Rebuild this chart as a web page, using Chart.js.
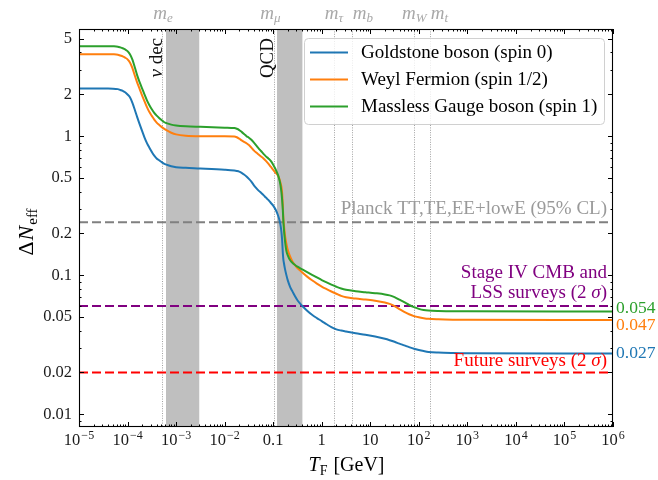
<!DOCTYPE html>
<html><head><meta charset="utf-8">
<script src="https://cdn.jsdelivr.net/npm/chart.js@4.4.1/dist/chart.umd.min.js"></script>
<style>html,body{margin:0;padding:0;background:#fff;}#wrap{width:658px;height:480px;}</style>
</head><body>
<div id="wrap"><canvas id="c" width="658" height="480"></canvas></div>
<script>
// ---------- data ----------
const T_GeV = [1e-5, 3.98e-5, 5.01e-5, 6.31e-5, 7.08e-5, 7.94e-5, 8.91e-5, 1.0e-4, 1.12e-4, 1.26e-4,
  1.41e-4, 1.58e-4, 1.78e-4, 2.0e-4, 2.24e-4, 2.51e-4, 2.82e-4, 3.16e-4, 3.55e-4, 3.98e-4,
  4.47e-4, 5.01e-4, 5.62e-4, 6.31e-4, 7.94e-4, 1.0e-3, 1.58e-3, 3.16e-3, 1.0e-2, 1.58e-2,
  1.78e-2, 2.0e-2, 2.24e-2, 2.51e-2, 2.82e-2, 3.16e-2, 3.55e-2, 3.98e-2, 4.47e-2, 5.01e-2,
  5.62e-2, 6.31e-2, 7.08e-2, 7.94e-2, 8.91e-2, 0.1, 0.112, 0.126, 0.135, 0.141,
  0.148, 0.153, 0.158, 0.162, 0.166, 0.174, 0.186, 0.2, 0.224, 0.251,
  0.282, 0.316, 0.355, 0.398, 0.501, 0.631, 0.794, 1.0, 1.26, 1.58,
  2.0, 2.51, 3.16, 5.01, 7.94, 12.6, 20.0, 25.1, 31.6, 39.8,
  50.1, 63.1, 79.4, 100, 126, 158, 251, 501, 1000, 1e6];
const goldstone = [2.20, 2.20, 2.198, 2.18, 2.15, 2.12, 2.07, 1.995, 1.905, 1.738,
  1.549, 1.371, 1.216, 1.086, 0.977, 0.891, 0.826, 0.771, 0.724, 0.692,
  0.671, 0.652, 0.635, 0.624, 0.608, 0.598, 0.592, 0.586, 0.574, 0.566,
  0.562, 0.556, 0.545, 0.530, 0.513, 0.493, 0.471, 0.445, 0.424, 0.406,
  0.392, 0.377, 0.362, 0.348, 0.332, 0.317, 0.297, 0.269, 0.248, 0.231,
  0.204, 0.178, 0.1445, 0.130, 0.123, 0.112, 0.101, 0.0918, 0.0822, 0.0762,
  0.0705, 0.0661, 0.0628, 0.0601, 0.0556, 0.052, 0.0492, 0.0468, 0.0444, 0.0423,
  0.0408, 0.040, 0.0394, 0.0383, 0.0373, 0.0362, 0.0349, 0.0341, 0.0332, 0.0322,
  0.0313, 0.0304, 0.0296, 0.029, 0.0285, 0.0281, 0.0278, 0.0276, 0.0275, 0.0274];
const weyl = [3.89, 3.89, 3.88, 3.85, 3.80, 3.75, 3.67, 3.57, 3.39, 3.09,
  2.73, 2.43, 2.18, 1.96, 1.78, 1.62, 1.49, 1.40, 1.315, 1.253,
  1.208, 1.167, 1.132, 1.104, 1.059, 1.030, 1.007, 1.0, 1.0, 0.995,
  0.982, 0.959, 0.933, 0.910, 0.889, 0.863, 0.828, 0.791, 0.762, 0.738,
  0.715, 0.692, 0.664, 0.634, 0.603, 0.573, 0.546, 0.519, 0.490, 0.462,
  0.431, 0.389, 0.313, 0.257, 0.232, 0.197, 0.170, 0.152, 0.136, 0.125,
  0.118, 0.1127, 0.1084, 0.1045, 0.0977, 0.092, 0.0871, 0.0828, 0.0794, 0.0764,
  0.0736, 0.0711, 0.0695, 0.0679, 0.0668, 0.0656, 0.0637, 0.0622, 0.060, 0.0571,
  0.0545, 0.0524, 0.0508, 0.0498, 0.0491, 0.0486, 0.0482, 0.0479, 0.0478, 0.0476];
const gauge = [4.44, 4.44, 4.43, 4.40, 4.35, 4.29, 4.21, 4.09, 3.88, 3.55,
  3.13, 2.74, 2.44, 2.20, 1.99, 1.81, 1.67, 1.56, 1.47, 1.406,
  1.352, 1.306, 1.265, 1.242, 1.211, 1.194, 1.178, 1.167, 1.151, 1.143,
  1.130, 1.107, 1.074, 1.038, 1.0, 0.975, 0.942, 0.902, 0.859, 0.818,
  0.782, 0.746, 0.716, 0.692, 0.664, 0.624, 0.579, 0.525, 0.481, 0.447,
  0.394, 0.347, 0.294, 0.245, 0.216, 0.180, 0.151, 0.139, 0.128, 0.1225,
  0.1186, 0.1153, 0.1125, 0.110, 0.1052, 0.1007, 0.0964, 0.0923, 0.0887, 0.0855,
  0.0826, 0.0802, 0.0785, 0.0767, 0.0755, 0.0743, 0.0728, 0.0716, 0.0695, 0.0667,
  0.0640, 0.0612, 0.0589, 0.0573, 0.0562, 0.0557, 0.0553, 0.0551, 0.0550, 0.0548];
const seriesNames = ['Goldstone boson (spin 0)', 'Weyl Fermion (spin 1/2)', 'Massless Gauge boson (spin 1)'];
const seriesColors = ['#1f77b4', '#ff7f0e', '#2ca02c'];
const finalLabels = ['0.027', '0.047', '0.054'];

const limitValues = [0.24, 0.06, 0.02];
const limitColors = ['#808080', '#800080', '#ff0000'];
const limitTexts = [['Planck TT,TE,EE+lowE (95% CL)'], ['Stage IV CMB and', 'LSS surveys (2 σ)'], ['Future surveys (2 σ)']];

const massValues = [0.000511, 0.1057, 1.777, 4.18, 80.4, 173.0];
const massSubs = ['e', 'μ', 'τ', 'b', 'W', 't'];
const bandRanges = [[6.2e-4, 3.0e-3], [0.12, 0.4]];
const bandLabels = ['ν dec', 'QCD'];

const xTickValues = [1e-5, 1e-4, 1e-3, 1e-2, 0.1, 1, 10, 100, 1e3, 1e4, 1e5, 1e6];
const xTickBase = ['10', '10', '10', '10', '0.1', '1', '10', '10', '10', '10', '10', '10'];
const xTickExp = ['−5', '−4', '−3', '−2', '', '', '', '2', '3', '4', '5', '6'];
const yTickValues = [0.01, 0.02, 0.05, 0.1, 0.2, 0.5, 1, 2, 5];
const yTickLabels = ['0.01', '0.02', '0.05', '0.1', '0.2', '0.5', '1', '2', '5'];

// ---------- chart ----------
const SERIF = '"Liberation Serif", "Times New Roman", serif';
const curves = [goldstone, weyl, gauge];
const datasets = curves.map((vals, i) => ({
  label: seriesNames[i],
  data: T_GeV.map((t, k) => ({x: t, y: vals[k]})),
  borderColor: seriesColors[i], borderWidth: 2, pointRadius: 0,
  cubicInterpolationMode: 'monotone', fill: false, order: 3 - i
}));
limitValues.forEach((v, i) => datasets.push({
  label: 'limit' + i,
  data: [{x: xTickValues[0], y: v}, {x: xTickValues[xTickValues.length - 1], y: v}],
  borderColor: limitColors[i], borderWidth: 2, borderDash: [9, 4], pointRadius: 0, fill: false, order: 10
}));

function textW(ctx, s, f) { ctx.font = f; return ctx.measureText(s).width; }

const decor = {
  id: 'decor',
  beforeDatasetsDraw(chart) {
    const {ctx, chartArea: a, scales: {x}} = chart;
    ctx.save();
    ctx.fillStyle = '#bfbfbf';
    bandRanges.forEach(([lo, hi]) => {
      const x0 = x.getPixelForValue(lo), x1 = x.getPixelForValue(hi);
      ctx.fillRect(x0, a.top, x1 - x0, a.bottom - a.top);
    });
    ctx.strokeStyle = '#8a8a8a'; ctx.lineWidth = 0.8; ctx.setLineDash([1, 1.4]);
    massValues.forEach(m => {
      const px = Math.round(x.getPixelForValue(m)) + 0.5;
      ctx.beginPath(); ctx.moveTo(px, a.top); ctx.lineTo(px, a.bottom); ctx.stroke();
    });
    ctx.restore();
  },
  afterDatasetsDraw(chart) {
    const {ctx, chartArea: a, scales: {x, y}} = chart;
    ctx.save();
    ctx.setLineDash([]);
    // frame
    ctx.strokeStyle = '#000'; ctx.lineWidth = 1.1;
    ctx.strokeRect(a.left + 0.5, a.top + 0.5, a.right - a.left - 1, a.bottom - a.top - 1);
    // ticks (inward, all four sides)
    ctx.lineWidth = 1;
    const tick = (x0, y0, x1, y1) => { ctx.beginPath(); ctx.moveTo(x0, y0); ctx.lineTo(x1, y1); ctx.stroke(); };
    for (let e = -5; e <= 6; e++) {
      for (let m = 1; m <= 9; m++) {
        const v = m * Math.pow(10, e);
        if (v > 1e6 * 1.0001) break;
        const px = Math.round(x.getPixelForValue(v)) + 0.5;
        const L = m === 1 ? 5 : 2.5;
        tick(px, a.bottom, px, a.bottom - L);
        tick(px, a.top, px, a.top + L);
      }
    }
    for (let e = -3; e <= 0; e++) {
      for (let m = 1; m <= 9; m++) {
        const v = m * Math.pow(10, e);
        if (v < y.min || v > y.max) continue;
        const py = Math.round(y.getPixelForValue(v)) + 0.5;
        const major = yTickValues.some(t => Math.abs(t - v) < 1e-9);
        const L = major ? 5 : 2.5;
        tick(a.left, py, a.left + L, py);
        tick(a.right, py, a.right - L, py);
      }
    }
    // x tick labels with real superscripts
    ctx.fillStyle = '#1a1a1a'; ctx.textBaseline = 'alphabetic'; ctx.textAlign = 'left';
    const fb = '16.5px ' + SERIF, fe = '12px ' + SERIF;
    xTickValues.forEach((v, i) => {
      const wb = textW(ctx, xTickBase[i], fb);
      const we = xTickExp[i] ? textW(ctx, xTickExp[i], fe) + 1 : 0;
      const x0 = x.getPixelForValue(v) - (wb + we) / 2;
      ctx.font = fb; ctx.fillText(xTickBase[i], x0, 445);
      if (xTickExp[i]) { ctx.font = fe; ctx.fillText(xTickExp[i], x0 + wb + 1, 438.5); }
    });
    // mass labels on top
    ctx.fillStyle = '#a8a8a8'; ctx.textBaseline = 'alphabetic';
    const massShift = [1, -4, 0, 11, 0, 9];
    massValues.forEach((m, i) => {
      const fm = 'italic 19px ' + SERIF, fs = 'italic 13px ' + SERIF;
      const w1 = textW(ctx, 'm', fm), w2 = textW(ctx, massSubs[i], fs);
      const cx = x.getPixelForValue(m) + massShift[i];
      const x0 = cx - (w1 + w2) / 2;
      ctx.font = fm; ctx.textAlign = 'left'; ctx.fillText('m', x0, 19);
      ctx.font = fs; ctx.fillText(massSubs[i], x0 + w1, 22);
    });
    // band labels (rotated)
    ctx.fillStyle = '#111';
    bandRanges.forEach((r, i) => {
      ctx.save();
      ctx.translate(x.getPixelForValue(r[0]) - 4.5, a.top + 9);
      ctx.rotate(-Math.PI / 2);
      ctx.font = '19px ' + SERIF; ctx.textAlign = 'right'; ctx.textBaseline = 'alphabetic';
      if (i === 0) {
        const wd = textW(ctx, ' dec', '19px ' + SERIF);
        ctx.font = 'italic 19px ' + SERIF; ctx.fillText('ν', -wd, 0);
        ctx.font = '19px ' + SERIF; ctx.fillText(' dec', 0, 0);
      } else {
        ctx.fillText(bandLabels[i], 0, 0);
      }
      ctx.restore();
    });
    // limit annotations
    ctx.textAlign = 'right'; ctx.textBaseline = 'middle';
    const textColors = ['#9a9a9a', '#800080', '#ff0000'];
    const above = [[13], [33, 13], [11]];
    limitTexts.forEach((lines, i) => {
      const py = y.getPixelForValue(limitValues[i]);
      ctx.fillStyle = textColors[i];
      lines.forEach((s, j) => {
        const yy = py - above[i][j];
        const k = s.indexOf('σ');
        if (k >= 0) {
          const tail = s.slice(k + 1), pre = s.slice(0, k);
          const wt = textW(ctx, tail, '19px ' + SERIF);
          const ws = textW(ctx, 'σ', 'italic 19px ' + SERIF);
          ctx.font = '19px ' + SERIF; ctx.fillText(tail, 607, yy);
          ctx.font = 'italic 19px ' + SERIF; ctx.fillText('σ', 607 - wt, yy);
          ctx.font = '19px ' + SERIF; ctx.fillText(pre, 607 - wt - ws, yy);
        } else {
          ctx.font = '19px ' + SERIF; ctx.fillText(s, 607, yy);
        }
      });
    });
    // final value labels on the right
    const labelShift = [-0.5, 5, -3];
    ctx.textAlign = 'left'; ctx.font = '17.5px ' + SERIF;
    curves.forEach((vals, i) => {
      ctx.fillStyle = seriesColors[i];
      ctx.fillText(finalLabels[i], a.right + 3, y.getPixelForValue(vals[vals.length - 1]) + labelShift[i]);
    });
    // legend
    const lx = 304.5, ly = 38.5, lw = 300, lh = 86, r = 4;
    ctx.beginPath();
    ctx.roundRect(lx, ly, lw, lh, r);
    ctx.fillStyle = 'rgba(255,255,255,0.8)'; ctx.fill();
    ctx.strokeStyle = '#d0d0d0'; ctx.lineWidth = 1; ctx.stroke();
    seriesNames.forEach((s, i) => {
      const ry = 52.5 + i * 27;
      ctx.strokeStyle = seriesColors[i]; ctx.lineWidth = 2;
      ctx.beginPath(); ctx.moveTo(310, ry); ctx.lineTo(348, ry); ctx.stroke();
      ctx.fillStyle = '#000'; ctx.font = '19px ' + SERIF; ctx.textAlign = 'left'; ctx.textBaseline = 'middle';
      ctx.fillText(s, 361, ry + 1);
    });
    // x axis title: T_F [GeV]
    ctx.fillStyle = '#000'; ctx.textBaseline = 'alphabetic'; ctx.textAlign = 'left';
    {
      const f1 = 'italic 20px ' + SERIF, f2 = '14px ' + SERIF, f3 = '20px ' + SERIF;
      const w1 = textW(ctx, 'T', f1), w2 = textW(ctx, 'F', f2), w3 = textW(ctx, ' [GeV]', f3);
      const x0 = (a.left + a.right) / 2 - (w1 + w2 + w3) / 2;
      ctx.font = f1; ctx.fillText('T', x0, 471);
      ctx.font = f2; ctx.fillText('F', x0 + w1, 475);
      ctx.font = f3; ctx.fillText(' [GeV]', x0 + w1 + w2 + 1, 471);
    }
    // y axis title: ΔN_eff
    {
      ctx.save();
      ctx.translate(33, 232); ctx.rotate(-Math.PI / 2);
      const f1 = '22px ' + SERIF, f2 = 'italic 22px ' + SERIF, f3 = '15px ' + SERIF;
      const w1 = textW(ctx, 'Δ', f1), w2 = textW(ctx, 'N', f2), w3 = textW(ctx, 'eff', f3);
      const x0 = -(w1 + w2 + w3 + 2) / 2;
      ctx.font = f1; ctx.fillText('Δ', x0, 0);
      ctx.font = f2; ctx.fillText('N', x0 + w1 + 1, 0);
      ctx.font = f3; ctx.fillText('eff', x0 + w1 + w2 + 2, 4);
      ctx.restore();
    }
    ctx.restore();
  }
};

new Chart(document.getElementById('c'), {
  type: 'line',
  data: {datasets},
  options: {
    responsive: false, animation: false, devicePixelRatio: 1,
    layout: {padding: {top: 29, right: 45, left: 0, bottom: 0}},
    plugins: {legend: {display: false}, tooltip: {enabled: false}},
    scales: {
      x: {
        type: 'logarithmic', min: 1e-5, max: 1e6, position: 'bottom',
        afterBuildTicks: s => { s.ticks = xTickValues.map(v => ({value: v})); },
        afterFit: s => { s.height = 53; },
        grid: {display: false, drawTicks: false}, border: {display: false},
        ticks: {display: false}
      },
      y: {
        type: 'logarithmic', min: 0.0081, max: 5.9,
        afterBuildTicks: s => { s.ticks = yTickValues.map(v => ({value: v})); },
        afterFit: s => { s.width = 79; },
        grid: {display: false, drawTicks: false}, border: {display: false},
        ticks: {callback: (v, i) => yTickLabels[i], autoSkip: false, padding: 7,
          color: '#1a1a1a', font: {family: SERIF, size: 16.5}}
      }
    }
  },
  plugins: [decor]
});
</script>
</body></html>
